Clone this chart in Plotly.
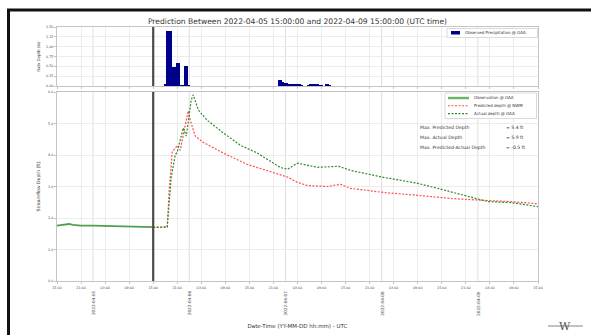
import pandas as pd
import plotly.graph_objects as go

# ---------------- data ----------------
start = pd.Timestamp("2022-04-04 15:00:00")
pred_start = pd.Timestamp("2022-04-05 15:00:00")
end = pd.Timestamp("2022-04-09 15:00:00")

# hours since start
obs_hours = [0, 1, 2, 3, 4, 6, 9, 12, 15, 18, 21, 24]
obs_depth = [1.76, 1.77, 1.79, 1.81, 1.78, 1.76, 1.76, 1.75, 1.75, 1.74, 1.73, 1.71]

pred_hours = [24, 26, 27.5, 28.0, 28.75, 30, 30.75, 31.75, 32.75, 33.25, 34.5, 36.5, 41.5,
              47.5, 54, 57.5, 60, 62.5, 67.5, 70.75, 73.25, 81.5, 90, 98.25, 106.5, 113.25, 120]
pred_depth = [1.71, 1.71, 1.72, 2.9, 4.1, 4.3, 4.15, 4.8, 5.4, 5.1, 4.6, 4.4, 4.06,
              3.7, 3.45, 3.3, 3.13, 3.03, 3.0, 3.07, 2.94, 2.81, 2.72, 2.62, 2.56, 2.52, 2.45]

act_hours = [24, 26, 27.5, 28.5, 29.5, 30, 31.5, 32.25, 33.5, 34, 35.25, 37.5, 41.5, 45.75,
             50, 55.75, 57.5, 60, 65, 70.25, 73.25, 81.5, 90, 95, 101.5, 107.5, 113.25, 120]
act_depth = [1.70, 1.70, 1.71, 3.3, 4.0, 4.1, 4.86, 4.6, 5.75, 5.91, 5.43, 5.1, 4.7, 4.31,
             4.06, 3.6, 3.55, 3.74, 3.61, 3.64, 3.51, 3.29, 3.1, 2.94, 2.72, 2.52, 2.49, 2.36]

rain_hours = [27.0, 27.5, 28.0, 28.5, 29.0, 29.5, 30.0, 30.5, 31.0, 31.5, 32.0, 32.5, 33.0,
              55.5, 56.0, 56.5, 57.0, 57.5, 58.0, 58.5, 59.0, 59.5, 60.0, 60.5, 61.0,
              62.5, 63.0, 63.5, 64.0, 64.5, 65.0, 65.5, 66.0, 67.0, 67.5, 68.0]
rain_in = [0.03, 1.40, 1.40, 1.40, 0.48, 0.48, 0.58, 0.58, 0.02, 0.02, 0.51, 0.51, 0.02,
           0.15, 0.15, 0.10, 0.08, 0.07, 0.06, 0.05, 0.05, 0.04, 0.03, 0.03, 0.02,
           0.02, 0.03, 0.04, 0.04, 0.03, 0.03, 0.02, 0.02, 0.03, 0.03, 0.02]

date_labels = ["2022-04-05", "2022-04-06", "2022-04-07", "2022-04-08", "2022-04-09"]
y_ticks_depth = [0, 1, 2, 3, 4, 5, 6]
y_ticks_rain = [0, 0.25, 0.5, 0.75, 1.0, 1.25, 1.5]

stats_labels = ["Max. Predicted Depth", "Max. Actual Depth", "Max. Predicted-Actual Depth"]
stats_values = ["= 5.4 ft", "= 5.9 ft", "= -0.5 ft"]

rain_name = "Observed Precipitation @ OAA"
obs_name = "Observation @ OAA"
pred_name = "Predicted depth @ NWM"
act_name = "Actual depth @ OAA"

title = "Prediction Between 2022-04-05 15:00:00 and 2022-04-09 15:00:00 (UTC time)"

# ---------------- helpers ----------------
W, H = 591, 335
L, R, T, B = 57, 53, 27, 54
PW, PH = W - L - R, H - T - B


def px(x):
    return (x - L) / PW


def py(y):
    return (H - B - y) / PH


def t(hours):
    return [start + pd.Timedelta(hours=h) for h in hours]


FONT = "DejaVu Sans"
GRID = "#ececec"
SPINE = "#c4c4c4"
C_RAIN = "#00008B"
C_OBS = "#4f9f4f"
C_PRED = "#ff4f4f"
C_ACT = "#2e8b2e"
DASH = "2px,1.5px"

fig = go.Figure()

fig.add_trace(go.Bar(
    x=t(rain_hours), y=rain_in, width=30 * 60 * 1000, marker=dict(color=C_RAIN, line=dict(width=0)),
    name=rain_name, xaxis="x2", yaxis="y2"))
fig.add_trace(go.Scatter(
    x=t(obs_hours), y=obs_depth, mode="lines", line=dict(color=C_OBS, width=1.8), name=obs_name))
fig.add_trace(go.Scatter(
    x=t(pred_hours), y=pred_depth, mode="lines", line=dict(color=C_PRED, width=1.2, dash=DASH),
    name=pred_name))
fig.add_trace(go.Scatter(
    x=t(act_hours), y=act_depth, mode="lines", line=dict(color=C_ACT, width=1.2, dash=DASH),
    name=act_name))

tick_font = dict(family=FONT, size=3.3, color="#444")

xcommon = dict(type="date", range=[start, end], dtick=6 * 3600 * 1000, tick0=start,
               tickformat="%H:%M", showgrid=True, gridcolor=GRID, gridwidth=0.6,
               showline=True, linecolor=SPINE, linewidth=1, mirror=True, automargin=False,
               ticks="outside", ticklen=2, tickcolor=SPINE, tickfont=tick_font, zeroline=False)

dom_bottom = [0, py(92)]
dom_top = [py(86), 1]

fig.update_layout(
    width=W, height=H, margin=dict(l=L, r=R, t=T, b=B, autoexpand=False),
    paper_bgcolor="white", plot_bgcolor="white",
    font=dict(family=FONT, color="#333"),
    showlegend=False,
    title=dict(text=title, x=0.5, xref="paper", xanchor="center",
               y=1 - 21 / H, yref="container", yanchor="middle",
               font=dict(family=FONT, size=7.6, color="#333")),
    xaxis=dict(**xcommon, anchor="y", ticklabelstandoff=1,
               title=dict(text="Date-Time (YY-MM-DD hh:mm) - UTC",
                          font=dict(family=FONT, size=5.5, color="#333"), standoff=35)),
    xaxis2=dict(**{k: v for k, v in xcommon.items() if k != "tickfont"}, anchor="y2",
                matches="x", showticklabels=False),
    yaxis=dict(domain=dom_bottom, range=[0, 6], tickvals=y_ticks_depth,
               ticktext=[f"{v:.1f}" for v in y_ticks_depth], automargin=False,
               showgrid=True, gridcolor=GRID, gridwidth=0.6, showline=True, linecolor=SPINE,
               mirror=True, ticks="outside", ticklen=2, tickcolor=SPINE, tickfont=tick_font,
               zeroline=False,
               title=dict(text="Streamflow Depth (ft)", font=dict(family=FONT, size=4.6, color="#333"),
                          standoff=7)),
    yaxis2=dict(domain=dom_top, range=[0, 1.5], tickvals=y_ticks_rain,
                ticktext=[f"{v:.2f}" for v in y_ticks_rain], automargin=False,
                showgrid=True, gridcolor=GRID, gridwidth=0.6, showline=True, linecolor=SPINE,
                mirror=True, ticks="outside", ticklen=2, tickcolor=SPINE, tickfont=tick_font,
                zeroline=False, anchor="x2",
                title=dict(text="Rain Depth (in)", font=dict(family=FONT, size=4, color="#333"),
                           standoff=5)),
    bargap=0,
)

shapes = []
annotations = []
# midnight grid lines (date boundaries) in both panels
for d in date_labels:
    for xr, yr in (("x", "y domain"), ("x2", "y2 domain")):
        shapes.append(dict(type="line", xref=xr, yref=yr, x0=d, x1=d, y0=0, y1=1,
                           line=dict(color="#d6d6d6", width=0.8), layer="below"))
# prediction start line
for xr, yr in (("x", "y domain"), ("x2", "y2 domain")):
    shapes.append(dict(type="line", xref=xr, yref=yr, x0=pred_start, x1=pred_start, y0=0, y1=1,
                       line=dict(color="#4a4a4a", width=2.2)))

# ---- manual legends (matplotlib style) ----
LEG_FONT = dict(family=FONT, size=4, color="#333")
# top legend
shapes.append(dict(type="rect", xref="paper", yref="paper", x0=px(447), x1=px(537.5),
                   y0=py(37.5), y1=py(28.5), line=dict(color="#d0d0d0", width=0.8), fillcolor="white"))
shapes.append(dict(type="rect", xref="paper", yref="paper", x0=px(451), x1=px(460),
                   y0=py(34.5), y1=py(31), line=dict(width=0), fillcolor=C_RAIN))
annotations.append(dict(x=px(462.5), xref="paper", y=py(33), yref="paper", text=rain_name,
                        showarrow=False, xanchor="left", yanchor="middle", font=LEG_FONT))
# bottom legend
shapes.append(dict(type="rect", xref="paper", yref="paper", x0=px(445), x1=px(536.5),
                   y0=py(118.5), y1=py(93), line=dict(color="#d0d0d0", width=0.8), fillcolor="white"))
leg_items = [(obs_name, "#6ab46a", 2.4, "solid"), (pred_name, C_PRED, 1.1, DASH), (act_name, C_ACT, 1.1, DASH)]
for i, (nm, col, wd, ds) in enumerate(leg_items):
    yy = py(98 + i * 7.8)
    shapes.append(dict(type="line", xref="paper", yref="paper", x0=px(448), x1=px(469),
                       y0=yy, y1=yy, line=dict(color=col, width=wd, dash=ds)))
    annotations.append(dict(x=px(472), xref="paper", y=yy, yref="paper", text=nm, showarrow=False,
                            xanchor="left", yanchor="middle", font=LEG_FONT))

# outer dark frame (screenshot border)
shapes.append(dict(type="line", xref="paper", yref="paper", x0=px(8.5), x1=px(8.5),
                   y0=py(9), y1=py(340), line=dict(color="#111111", width=3)))
shapes.append(dict(type="line", xref="paper", yref="paper", x0=px(7), x1=px(600),
                   y0=py(10), y1=py(10), line=dict(color="#111111", width=3)))
# logo line
shapes.append(dict(type="line", xref="paper", yref="paper", x0=px(548), x1=px(583),
                   y0=py(326), y1=py(326), line=dict(color="#666666", width=0.8)))
fig.update_layout(shapes=shapes)

for d in date_labels:
    annotations.append(dict(x=d, xref="x", y=py(303), yref="paper", text=d, textangle=-90,
                            showarrow=False, font=dict(family=FONT, size=4.2, color="#444"),
                            xanchor="center", yanchor="middle"))
for i, (lab, val) in enumerate(zip(stats_labels, stats_values)):
    yy = py(128 + i * 9.8)
    annotations.append(dict(x=px(418), xref="paper", y=yy, yref="paper", text=lab, showarrow=False,
                            xanchor="left", yanchor="middle", font=dict(family=FONT, size=4.6, color="#333")))
    annotations.append(dict(x=px(504), xref="paper", y=yy, yref="paper", text=val, showarrow=False,
                            xanchor="left", yanchor="middle", font=dict(family=FONT, size=4.6, color="#333")))
annotations.append(dict(x=px(565), xref="paper", y=py(326), yref="paper", text="W", showarrow=False,
                        xanchor="center", yanchor="middle",
                        font=dict(family="DejaVu Serif", size=11, color="#555")))
fig.update_layout(annotations=annotations)

fig.write_html("out.html")
